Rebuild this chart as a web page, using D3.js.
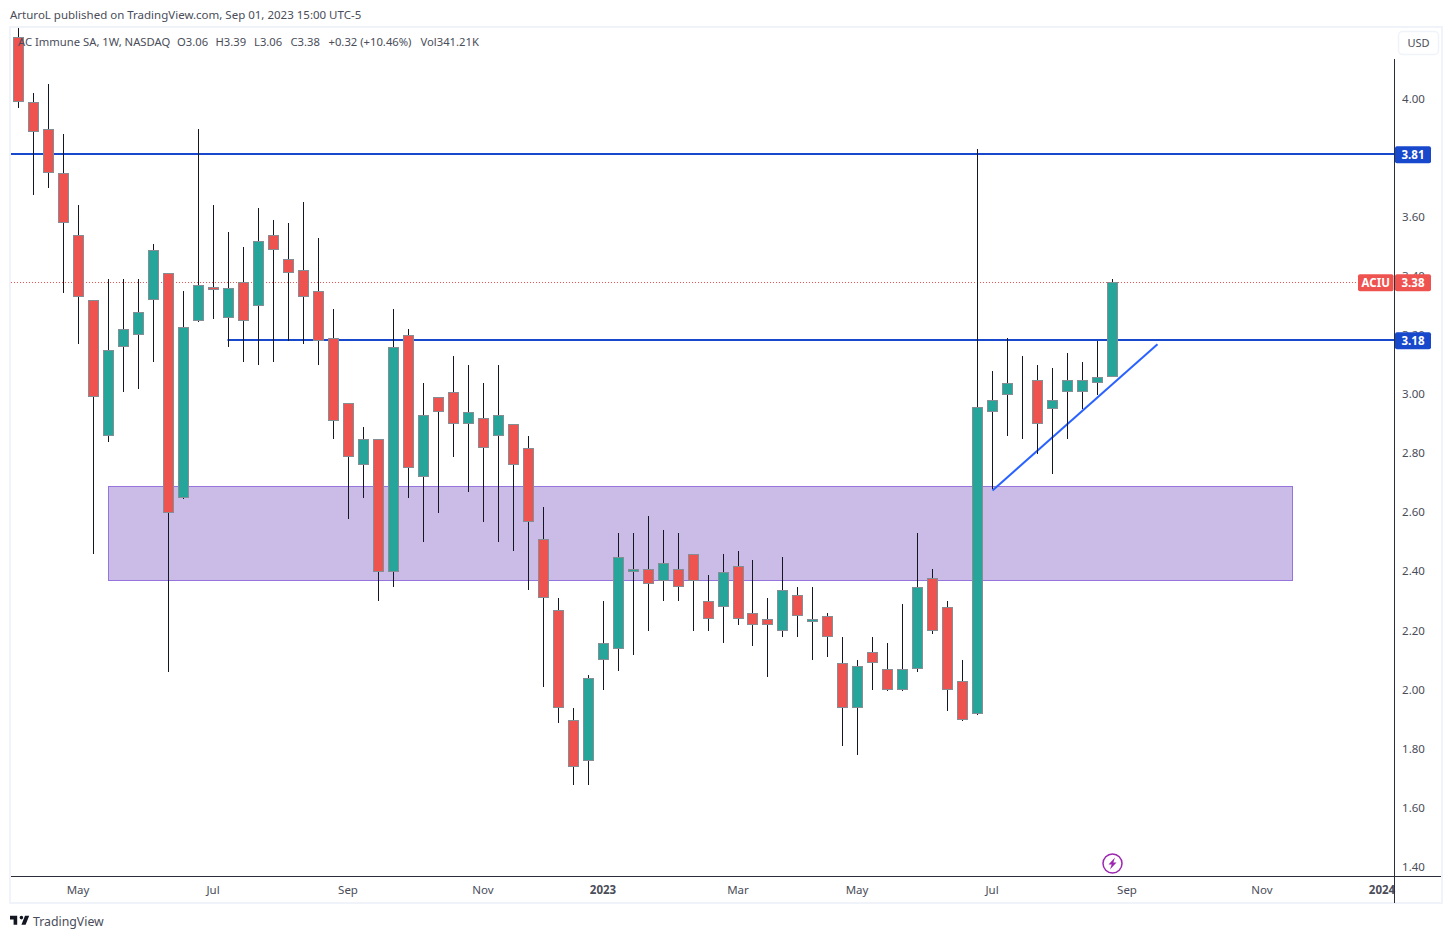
<!DOCTYPE html>
<html>
<head>
<meta charset="utf-8">
<script src="https://cdn.jsdelivr.net/npm/d3@7"></script>
<style>
  html, body { margin: 0; padding: 0; background: #fff; }
  text { font-family: "Noto Sans", sans-serif; }
</style>
</head>
<body>
<svg id="chart1" width="1452" height="939"></svg>
<script>
// weekly candles, oldest first
var opens  = [4.21,3.99,3.90,3.75,3.54,3.32,2.86,3.16,3.20,3.32,3.41,2.65,3.25,3.365,3.26,3.38,3.30,3.54,3.46,3.42,3.35,3.19,2.97,2.76,2.85,2.40,3.20,2.72,2.99,3.01,2.90,2.92,2.86,2.90,2.82,2.51,2.27,1.90,1.76,2.10,2.14,2.40,2.41,2.37,2.41,2.46,2.30,2.28,2.42,2.26,2.24,2.20,2.32,2.23,2.25,2.09,1.94,2.13,2.07,2.00,2.07,2.38,2.28,2.03,1.92,2.94,3.00,3.05,3.05,2.95,3.01,3.01,3.04,3.06];
var highs  = [4.24,4.02,4.05,3.88,3.64,3.32,3.39,3.39,3.39,3.51,3.41,3.35,3.90,3.64,3.55,3.50,3.63,3.59,3.58,3.65,3.53,3.29,2.97,2.89,2.85,3.29,3.22,3.04,2.99,3.13,3.10,3.04,3.10,2.90,2.86,2.62,2.31,1.94,2.05,2.30,2.53,2.53,2.59,2.54,2.53,2.46,2.39,2.46,2.47,2.44,2.31,2.45,2.35,2.35,2.26,2.18,2.10,2.18,2.16,2.29,2.53,2.41,2.30,2.10,3.83,3.08,3.19,3.13,3.10,3.09,3.14,3.11,3.18,3.39];
var lows   = [3.97,3.675,3.70,3.345,3.17,2.46,2.84,3.01,3.02,3.11,2.06,2.646,3.245,3.254,3.16,3.11,3.10,3.11,3.18,3.17,3.10,2.85,2.58,2.65,2.30,2.35,2.65,2.50,2.60,2.79,2.67,2.57,2.50,2.47,2.34,2.01,1.89,1.68,1.68,2.00,2.065,2.12,2.20,2.30,2.30,2.20,2.20,2.16,2.22,2.15,2.045,2.18,2.18,2.10,2.11,1.81,1.78,2.00,1.995,1.995,2.06,2.19,1.93,1.895,1.915,2.68,2.86,2.85,2.80,2.73,2.85,2.95,3.00,3.06];
var closes = [3.99,3.89,3.75,3.58,3.33,2.99,3.15,3.22,3.28,3.49,2.60,3.23,3.37,3.355,3.36,3.25,3.52,3.49,3.41,3.33,3.18,2.91,2.79,2.85,2.40,3.16,2.75,2.93,2.94,2.90,2.94,2.82,2.93,2.76,2.57,2.31,1.94,1.74,2.04,2.16,2.45,2.41,2.36,2.43,2.35,2.37,2.24,2.40,2.24,2.22,2.22,2.34,2.25,2.24,2.18,1.94,2.08,2.09,2.00,2.07,2.35,2.20,2.00,1.90,2.958,2.98,3.04,3.05,2.90,2.98,3.05,3.05,3.06,3.38];

var priceTicks = [4.0,3.6,3.4,3.2,3.0,2.8,2.6,2.4,2.2,2.0,1.8,1.6,1.4];
var timeTickIdx = [4,13,22,31,39,48,56,65,74,83,91];
var timeTickLabels = ["May","Jul","Sep","Nov","2023","Mar","May","Jul","Sep","Nov","2024"];

// drawings on the chart
var levelPrices = [3.81,3.18];
var levelStart = [-1,14];
var zoneIdx = [6,85];
var zonePrice = [2.69,2.372];
var trendIdx = [65,76];
var trendPrice = [2.675,3.17];
var lastPrice = 3.38;

var headerText = ["AC Immune SA, 1W, NASDAQ","O3.06","H3.39","L3.06","C3.38","+0.32 (+10.46%)","Vol341.21K"];
var headerX = [18,177,215.5,254,290.5,328.5,420.5];

var colUp = "#26a69a", colDown = "#ef5350", colBorder = "#858d95", colWick = "#131722";
var colLevel = "#1848cc", colFrame = "#f0f3fa", colAxis = "#2a2e39", colText = "#4a4d59";

var svg = d3.select("#chart1");

// one pixel is lost in the week spacing around Mar 2023
var x = d3.scaleLinear().domain([0,48,49,73]).range([18.5,738.5,752.5,1112.5]);
var y = d3.scaleLinear().domain([4,2]).range([99,690]);
function px(i) { return Math.floor(x(i)) + 0.5; }
function py(p) { return Math.round(y(p)); }

var LEFT = 11, RIGHT = 1441, BOTTOM = 902, AXX = 1394.5, AXY = 876.5;

// frame
svg.append("rect").attr("x",10).attr("y",27).attr("width",1432).attr("height",876)
    .attr("fill","#fff").attr("stroke",colFrame).attr("stroke-width",2);

// zone
svg.append("rect")
    .attr("x",px(zoneIdx[0])).attr("width",px(zoneIdx[1])-px(zoneIdx[0]))
    .attr("y",py(zonePrice[0])+0.5).attr("height",py(zonePrice[1])-py(zonePrice[0]))
    .attr("fill","#cbbce7").attr("stroke","#9575dc").attr("stroke-width",1);

// last price line
svg.append("line").attr("x1",LEFT).attr("x2",1358)
    .attr("y1",py(lastPrice)+0.5).attr("y2",py(lastPrice)+0.5)
    .attr("stroke",colDown).attr("stroke-width",1).attr("stroke-dasharray","1 2");

// horizontal levels
svg.selectAll(".level").data(levelPrices).enter().append("line").attr("class","level")
    .attr("x1",function(d,i){ return levelStart[i]<0 ? LEFT : px(levelStart[i])-1; })
    .attr("x2",AXX)
    .attr("y1",function(d){ return py(d)-1; }).attr("y2",function(d){ return py(d)-1; })
    .attr("stroke",colLevel).attr("stroke-width",2);

// trend line
svg.append("line")
    .attr("x1",x(trendIdx[0])).attr("y1",y(trendPrice[0]))
    .attr("x2",x(trendIdx[0])+(trendIdx[1]-trendIdx[0])*15).attr("y2",y(trendPrice[1]))
    .attr("stroke","#2962ff").attr("stroke-width",2);

// candles
var candles = svg.append("g").selectAll("g").data(opens).enter().append("g");
candles.append("line")
    .attr("x1",function(d,i){ return px(i); }).attr("x2",function(d,i){ return px(i); })
    .attr("y1",function(d,i){ return py(highs[i]); })
    .attr("y2",function(d,i){ return py(lows[i]); })
    .attr("stroke",colWick).attr("stroke-width",1);
candles.append("rect")
    .attr("x",function(d,i){ return px(i)-5; })
    .attr("width",10)
    .attr("y",function(d,i){ return py(Math.max(d,closes[i]))+0.5; })
    .attr("height",function(d,i){ return Math.max(0, py(Math.min(d,closes[i]))-py(Math.max(d,closes[i]))-1); })
    .attr("fill",function(d,i){ return closes[i]>=d ? colUp : colDown; })
    .attr("stroke",colBorder).attr("stroke-width",1);

// price axis
var yAxis = svg.append("g").attr("transform","translate("+AXX+",0)")
    .call(d3.axisRight(y).tickValues(priceTicks).tickFormat(d3.format(".2f")).tickSize(0));
yAxis.select(".domain").remove();
yAxis.selectAll("text").attr("x",19).attr("y",-0.5).attr("text-anchor","middle")
    .style("font-family",'"Noto Sans", sans-serif').style("font-size","11.5px").attr("fill",colText);

// time axis
var xAxis = svg.append("g").attr("transform","translate(0,"+AXY+")")
    .call(d3.axisBottom(x).tickValues(timeTickIdx).tickFormat(function(d,i){ return timeTickLabels[i]; }).tickSize(0));
xAxis.select(".domain").remove();
xAxis.selectAll("text").attr("y",9).attr("dx",-1)
    .style("font-family",'"Noto Sans", sans-serif').style("font-size","11.5px").attr("fill",colText)
    .style("font-weight",function(d,i){ return timeTickLabels[i].length==4 ? "bold" : "normal"; });

// axis lines
svg.append("line").attr("x1",LEFT).attr("x2",RIGHT).attr("y1",AXY).attr("y2",AXY)
    .attr("stroke",colAxis).attr("stroke-width",1);
svg.append("line").attr("x1",AXX).attr("x2",AXX).attr("y1",59).attr("y2",BOTTOM+1)
    .attr("stroke",colAxis).attr("stroke-width",1);

// price tags
function tag(x0, w, price, label, col, off) {
    var yc = y(price) + off;
    svg.append("rect").attr("x",x0).attr("y",yc-8.5).attr("width",w).attr("height",17)
        .attr("rx",2).attr("fill",col);
    svg.append("text").attr("x",x0+w/2).attr("y",yc+4.2).attr("text-anchor","middle")
        .attr("fill","#fff").style("font-size","11.5px").style("font-weight","bold").text(label);
}
levelPrices.forEach(function(p){ tag(1395,36,p,p.toFixed(2),colLevel,-0.5); });
tag(1358,35.5,lastPrice,"ACIU",colDown,0.5);
tag(1395,36,lastPrice,lastPrice.toFixed(2),colDown,0.5);

// USD button
svg.append("rect").attr("x",1398.5).attr("y",31.5).attr("width",40).attr("height",23).attr("rx",4)
    .attr("fill","#fff").attr("stroke",colFrame).attr("stroke-width",1.5);
svg.append("text").attr("x",1418.5).attr("y",47).attr("text-anchor","middle")
    .attr("fill",colText).style("font-size","11px").text("USD");

// header texts
svg.append("text").attr("x",10).attr("y",19).attr("fill",colText).style("font-size","11.5px")
    .text("ArturoL published on TradingView.com, Sep 01, 2023 15:00 UTC-5");
svg.selectAll(".hdr").data(headerText).enter().append("text").attr("class","hdr")
    .attr("x",function(d,i){ return headerX[i]; }).attr("y",46)
    .attr("fill",colText).style("font-size","11.25px").text(function(d){ return d; });

// lightning mark on the last bar
var mark = svg.append("g").attr("transform","translate("+x(73)+",863.5)");
mark.append("circle").attr("r",9.5).attr("fill","#fff").attr("stroke","#9c27b0").attr("stroke-width",1.5);
mark.append("path").attr("d","M2.5,-6 L-4,1 L-0.8,1 L-2.5,6 L4,-1 L0.8,-1 Z").attr("fill","#9c27b0");

// TradingView logo + name
svg.append("path").attr("transform","translate(8.8,912.2) scale(0.6)")
    .attr("d","M14 6H2v6h6v9h6V6zm14 15h-7l6-15h7l-6 15zm-7-9a3 3 0 1 0 0-6 3 3 0 0 0 0 6z")
    .attr("fill","#131722");
svg.append("text").attr("x",33).attr("y",926).attr("fill",colText).style("font-size","12.3px").text("TradingView");
</script>
</body>
</html>
